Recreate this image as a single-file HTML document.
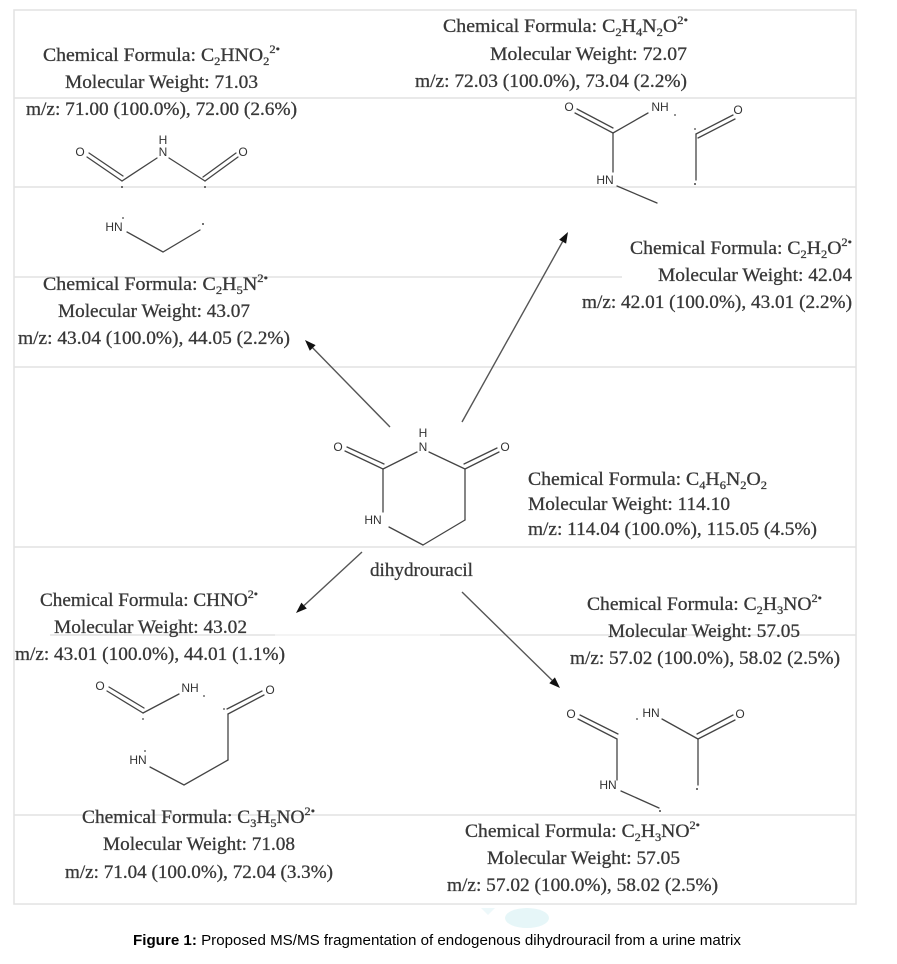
<!DOCTYPE html>
<html>
<head>
<meta charset="utf-8">
<style>
  html,body{margin:0;padding:0;background:#fff;}
  body{width:897px;height:964px;overflow:hidden;}
  svg{display:block;}
  .t{font-family:"Liberation Serif","Times New Roman",serif;font-size:19px;fill:#383838;stroke:#383838;stroke-width:0.3;}
  .a{font-family:"Liberation Sans",Arial,sans-serif;font-size:12px;fill:#333;}
  .b{stroke:#444;stroke-width:1.3;fill:none;stroke-linecap:round;}
  .g{stroke:#e2e2e2;stroke-width:1.5;fill:none;}
  .ar{stroke:#555;stroke-width:1.4;fill:none;}
  .cap{font-family:"Liberation Sans",Arial,sans-serif;font-size:14.5px;fill:#000;}
</style>
</head>
<body>
<svg width="897" height="964" viewBox="0 0 897 964" xmlns="http://www.w3.org/2000/svg">
  <!-- frame and grid -->
  <rect x="14" y="10" width="842" height="894" class="g"/>
  <line x1="14" y1="98" x2="856" y2="98" class="g"/>
  <line x1="14" y1="187" x2="856" y2="187" class="g"/>
  <line x1="14" y1="277" x2="622" y2="277" class="g"/>
  <line x1="14" y1="367" x2="856" y2="367" class="g"/>
  <line x1="14" y1="547" x2="856" y2="547" class="g"/>
  <line x1="50" y1="635" x2="275" y2="635" class="g"/>
  <line x1="275" y1="635" x2="440" y2="635" stroke="#f1f1f1" stroke-width="1.5"/>
  <line x1="440" y1="635" x2="856" y2="635" class="g"/>
  <line x1="14" y1="815" x2="856" y2="815" class="g"/>

  <!-- watermark -->
  <ellipse cx="527" cy="918" rx="22" ry="10" fill="#e6f6f8"/>
  <polygon points="481,908 495,908 488,915" fill="#edf8fa"/>

  <!-- ===== Top-left block ===== -->
  <text class="t" x="43" y="61" textLength="237" lengthAdjust="spacingAndGlyphs">Chemical Formula: C<tspan dy="4" font-size="12">2</tspan><tspan dy="-4">HNO</tspan><tspan dy="4" font-size="12">2</tspan><tspan dy="-12" font-size="12">2•</tspan></text>
  <text class="t" x="65" y="88" textLength="193" lengthAdjust="spacingAndGlyphs">Molecular Weight: 71.03</text>
  <text class="t" x="26" y="115" textLength="271" lengthAdjust="spacingAndGlyphs">m/z: 71.00 (100.0%), 72.00 (2.6%)</text>

  <!-- molecule A -->
  <text class="a" x="80" y="156" text-anchor="middle">O</text>
  <text class="a" x="163" y="144" text-anchor="middle">H</text>
  <text class="a" x="163" y="156" text-anchor="middle">N</text>
  <text class="a" x="243" y="156" text-anchor="middle">O</text>
  <line class="b" x1="87" y1="157" x2="122" y2="181"/>
  <line class="b" x1="89" y1="153" x2="123" y2="176"/>
  <line class="b" x1="122" y1="181" x2="157" y2="158"/>
  <line class="b" x1="169" y1="158" x2="205" y2="181"/>
  <line class="b" x1="205" y1="181" x2="238" y2="157"/>
  <line class="b" x1="203" y1="177" x2="236" y2="153"/>
  <circle cx="122" cy="187" r="1" fill="#444"/>
  <circle cx="205" cy="187" r="1" fill="#444"/>
  <text class="a" x="114" y="231" text-anchor="middle">HN</text>
  <circle cx="123" cy="218" r="0.9" fill="#444"/>
  <polyline class="b" points="127,232 163,252 200,230"/>
  <circle cx="203" cy="224" r="1" fill="#444"/>

  <!-- second left block -->
  <text class="t" x="43" y="290" textLength="225" lengthAdjust="spacingAndGlyphs">Chemical Formula: C<tspan dy="4" font-size="12">2</tspan><tspan dy="-4">H</tspan><tspan dy="4" font-size="12">5</tspan><tspan dy="-4">N</tspan><tspan dy="-8" font-size="12">2•</tspan></text>
  <text class="t" x="58" y="317" textLength="192" lengthAdjust="spacingAndGlyphs">Molecular Weight: 43.07</text>
  <text class="t" x="18" y="344" textLength="272" lengthAdjust="spacingAndGlyphs">m/z: 43.04 (100.0%), 44.05 (2.2%)</text>

  <!-- ===== Top-right block ===== -->
  <text class="t" x="443" y="32" textLength="245" lengthAdjust="spacingAndGlyphs">Chemical Formula: C<tspan dy="4" font-size="12">2</tspan><tspan dy="-4">H</tspan><tspan dy="4" font-size="12">4</tspan><tspan dy="-4">N</tspan><tspan dy="4" font-size="12">2</tspan><tspan dy="-4">O</tspan><tspan dy="-8" font-size="12">2•</tspan></text>
  <text class="t" x="490" y="60" textLength="197" lengthAdjust="spacingAndGlyphs">Molecular Weight: 72.07</text>
  <text class="t" x="415" y="87" textLength="272" lengthAdjust="spacingAndGlyphs">m/z: 72.03 (100.0%), 73.04 (2.2%)</text>

  <!-- molecule B -->
  <text class="a" x="569" y="111" text-anchor="middle">O</text>
  <text class="a" x="660" y="111" text-anchor="middle">NH</text>
  <circle cx="675" cy="115" r="0.9" fill="#444"/>
  <text class="a" x="738" y="114" text-anchor="middle">O</text>
  <line class="b" x1="575" y1="113" x2="613" y2="133"/>
  <line class="b" x1="577" y1="109" x2="613" y2="128"/>
  <line class="b" x1="613" y1="133" x2="648" y2="113"/>
  <line class="b" x1="613" y1="133" x2="613" y2="172"/>
  <text class="a" x="605" y="184" text-anchor="middle">HN</text>
  <line class="b" x1="617" y1="186" x2="657" y2="203"/>
  <circle cx="695" cy="129" r="0.9" fill="#444"/>
  <line class="b" x1="696" y1="134" x2="733" y2="115"/>
  <line class="b" x1="698" y1="138" x2="735" y2="119"/>
  <line class="b" x1="696" y1="134" x2="696" y2="180"/>
  <circle cx="695" cy="184" r="1" fill="#444"/>

  <!-- right middle block -->
  <text class="t" x="630" y="254" textLength="222" lengthAdjust="spacingAndGlyphs">Chemical Formula: C<tspan dy="4" font-size="12">2</tspan><tspan dy="-4">H</tspan><tspan dy="4" font-size="12">2</tspan><tspan dy="-4">O</tspan><tspan dy="-8" font-size="12">2•</tspan></text>
  <text class="t" x="658" y="281" textLength="194" lengthAdjust="spacingAndGlyphs">Molecular Weight: 42.04</text>
  <text class="t" x="582" y="308" textLength="270" lengthAdjust="spacingAndGlyphs">m/z: 42.01 (100.0%), 43.01 (2.2%)</text>

  <!-- ===== Center molecule ===== -->
  <text class="a" x="338" y="451" text-anchor="middle">O</text>
  <text class="a" x="423" y="437" text-anchor="middle">H</text>
  <text class="a" x="423" y="451" text-anchor="middle">N</text>
  <text class="a" x="505" y="451" text-anchor="middle">O</text>
  <line class="b" x1="345" y1="451" x2="383" y2="469"/>
  <line class="b" x1="347" y1="447" x2="384" y2="464"/>
  <line class="b" x1="383" y1="469" x2="417" y2="452"/>
  <line class="b" x1="429" y1="452" x2="465" y2="469"/>
  <line class="b" x1="465" y1="469" x2="499" y2="452"/>
  <line class="b" x1="464" y1="464" x2="497" y2="448"/>
  <line class="b" x1="465" y1="469" x2="465" y2="520"/>
  <line class="b" x1="465" y1="520" x2="423" y2="545"/>
  <line class="b" x1="423" y1="545" x2="389" y2="527"/>
  <line class="b" x1="383" y1="469" x2="383" y2="512"/>
  <text class="a" x="373" y="524" text-anchor="middle">HN</text>
  <text class="t" x="370" y="576" textLength="103" lengthAdjust="spacingAndGlyphs">dihydrouracil</text>

  <text class="t" x="528" y="485" textLength="239" lengthAdjust="spacingAndGlyphs">Chemical Formula: C<tspan dy="4" font-size="12">4</tspan><tspan dy="-4">H</tspan><tspan dy="4" font-size="12">6</tspan><tspan dy="-4">N</tspan><tspan dy="4" font-size="12">2</tspan><tspan dy="-4">O</tspan><tspan dy="4" font-size="12">2</tspan></text>
  <text class="t" x="528" y="510" textLength="202" lengthAdjust="spacingAndGlyphs">Molecular Weight: 114.10</text>
  <text class="t" x="528" y="535" textLength="289" lengthAdjust="spacingAndGlyphs">m/z: 114.04 (100.0%), 115.05 (4.5%)</text>

  <!-- ===== Bottom-left ===== -->
  <text class="t" x="40" y="606" textLength="218" lengthAdjust="spacingAndGlyphs">Chemical Formula: CHNO<tspan dy="-8" font-size="12">2•</tspan></text>
  <text class="t" x="54" y="633" textLength="193" lengthAdjust="spacingAndGlyphs">Molecular Weight: 43.02</text>
  <text class="t" x="15" y="660" textLength="270" lengthAdjust="spacingAndGlyphs">m/z: 43.01 (100.0%), 44.01 (1.1%)</text>

  <!-- molecule C -->
  <text class="a" x="100" y="690" text-anchor="middle">O</text>
  <text class="a" x="190" y="692" text-anchor="middle">NH</text>
  <circle cx="204" cy="696" r="0.9" fill="#444"/>
  <text class="a" x="270" y="694" text-anchor="middle">O</text>
  <line class="b" x1="107" y1="691" x2="143" y2="713"/>
  <line class="b" x1="109" y1="687" x2="144" y2="708"/>
  <line class="b" x1="143" y1="713" x2="179" y2="694"/>
  <circle cx="143" cy="719" r="0.9" fill="#444"/>
  <circle cx="224" cy="709" r="0.9" fill="#444"/>
  <line class="b" x1="228" y1="714" x2="264" y2="695"/>
  <line class="b" x1="227" y1="709" x2="262" y2="691"/>
  <line class="b" x1="228" y1="714" x2="228" y2="760"/>
  <polyline class="b" points="228,760 184,785 150,767"/>
  <text class="a" x="138" y="764" text-anchor="middle">HN</text>
  <circle cx="145" cy="751" r="0.9" fill="#444"/>

  <text class="t" x="82" y="823" textLength="233" lengthAdjust="spacingAndGlyphs">Chemical Formula: C<tspan dy="4" font-size="12">3</tspan><tspan dy="-4">H</tspan><tspan dy="4" font-size="12">5</tspan><tspan dy="-4">NO</tspan><tspan dy="-8" font-size="12">2•</tspan></text>
  <text class="t" x="103" y="850" textLength="192" lengthAdjust="spacingAndGlyphs">Molecular Weight: 71.08</text>
  <text class="t" x="65" y="878" textLength="268" lengthAdjust="spacingAndGlyphs">m/z: 71.04 (100.0%), 72.04 (3.3%)</text>

  <!-- ===== Bottom-right ===== -->
  <text class="t" x="587" y="610" textLength="235" lengthAdjust="spacingAndGlyphs">Chemical Formula: C<tspan dy="4" font-size="12">2</tspan><tspan dy="-4">H</tspan><tspan dy="4" font-size="12">3</tspan><tspan dy="-4">NO</tspan><tspan dy="-8" font-size="12">2•</tspan></text>
  <text class="t" x="608" y="637" textLength="192" lengthAdjust="spacingAndGlyphs">Molecular Weight: 57.05</text>
  <text class="t" x="570" y="664" textLength="270" lengthAdjust="spacingAndGlyphs">m/z: 57.02 (100.0%), 58.02 (2.5%)</text>

  <!-- molecule D -->
  <text class="a" x="571" y="718" text-anchor="middle">O</text>
  <line class="b" x1="578" y1="719" x2="617" y2="739"/>
  <line class="b" x1="580" y1="715" x2="618" y2="734"/>
  <line class="b" x1="617" y1="739" x2="617" y2="780"/>
  <text class="a" x="608" y="789" text-anchor="middle">HN</text>
  <line class="b" x1="621" y1="791" x2="659" y2="808"/>
  <circle cx="660" cy="811" r="1" fill="#444"/>
  <circle cx="637" cy="719" r="0.9" fill="#444"/>
  <text class="a" x="651" y="717" text-anchor="middle">HN</text>
  <line class="b" x1="662" y1="719" x2="698" y2="739"/>
  <line class="b" x1="698" y1="739" x2="735" y2="720"/>
  <line class="b" x1="697" y1="734" x2="733" y2="715"/>
  <text class="a" x="740" y="718" text-anchor="middle">O</text>
  <line class="b" x1="698" y1="739" x2="698" y2="785"/>
  <circle cx="697" cy="789" r="1" fill="#444"/>

  <text class="t" x="465" y="837" textLength="235" lengthAdjust="spacingAndGlyphs">Chemical Formula: C<tspan dy="4" font-size="12">2</tspan><tspan dy="-4">H</tspan><tspan dy="4" font-size="12">3</tspan><tspan dy="-4">NO</tspan><tspan dy="-8" font-size="12">2•</tspan></text>
  <text class="t" x="487" y="864" textLength="193" lengthAdjust="spacingAndGlyphs">Molecular Weight: 57.05</text>
  <text class="t" x="447" y="891" textLength="271" lengthAdjust="spacingAndGlyphs">m/z: 57.02 (100.0%), 58.02 (2.5%)</text>

  <!-- ===== Arrows ===== -->
  <line class="ar" x1="390" y1="427" x2="312.7" y2="347.9"/>
  <polygon points="305,340 315.6,345.1 309.8,350.7" fill="#111"/>
  <line class="ar" x1="462" y1="422" x2="562.6" y2="241.6"/>
  <polygon points="568,232 566.1,243.6 559.1,239.7" fill="#111"/>
  <line class="ar" x1="362" y1="552" x2="304.1" y2="605.5"/>
  <polygon points="296,613 306.8,608.5 301.4,602.6" fill="#111"/>
  <line class="ar" x1="462" y1="592" x2="552.1" y2="680.3"/>
  <polygon points="560,688 549.3,683.2 554.9,677.4" fill="#111"/>

  <!-- caption -->
  <text class="cap" x="133" y="945" textLength="608" lengthAdjust="spacingAndGlyphs"><tspan font-weight="bold">Figure 1:</tspan> Proposed MS/MS fragmentation of endogenous dihydrouracil from a urine matrix</text>
</svg>
</body>
</html>
